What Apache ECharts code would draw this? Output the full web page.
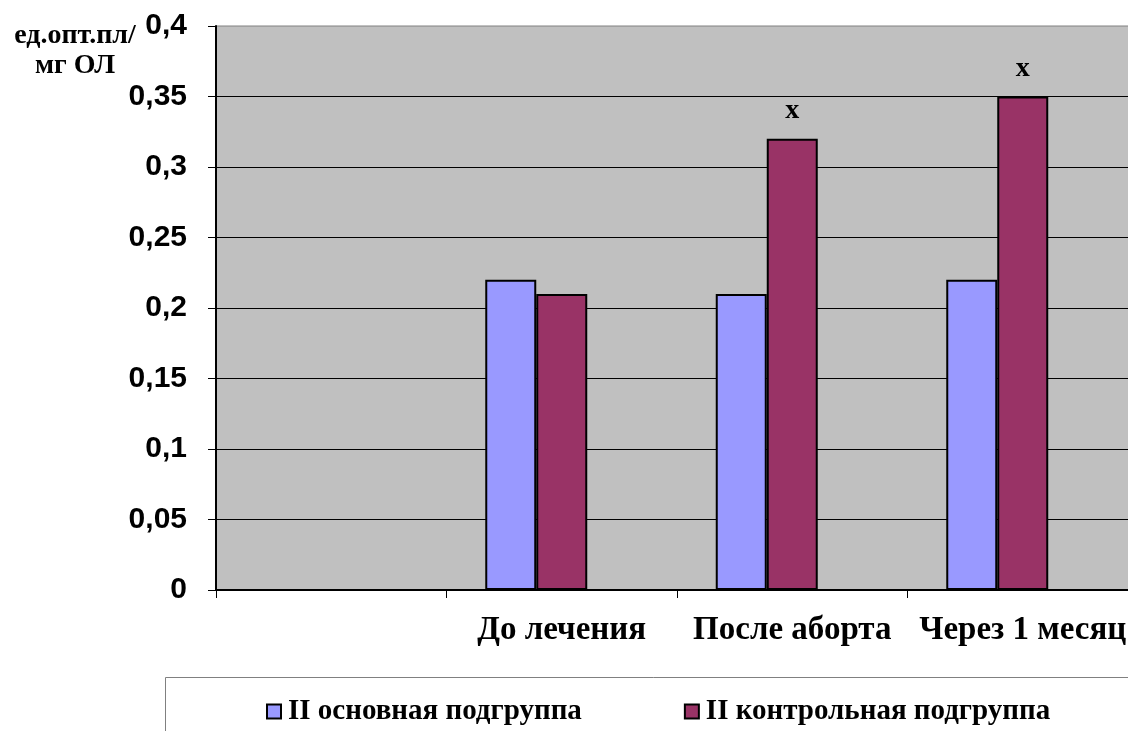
<!DOCTYPE html>
<html>
<head>
<meta charset="utf-8">
<script src="https://cdn.jsdelivr.net/npm/echarts@6/dist/echarts.min.js"></script>
<style>
  html, body { margin: 0; padding: 0; background: #fff; overflow: hidden; }
  /* the plot area runs slightly past the right edge of the page */
  #chart { width: 1140px; height: 731px; }
</style>
</head>
<body>
<div id="chart"></div>
<script>
// Categories along the x axis (the first slot is intentionally empty)
const categories = ['', 'До лечения', 'После аборта', 'Через 1 месяц'];
// Values, ед.опт.пл / мг ОЛ
const mainGroup = [null, 0.22, 0.21, 0.22];
const controlGroup = [null, 0.21, 0.32, 0.35];
// Significance markers shown above the control bars
const controlMarks = ['', '', 'x', 'x'];
// Third, empty series keeps the bar layout of the original three-slot grouping
const emptyGroup = [null, null, null, null];

const seriesNames = ['II основная подгруппа', 'II контрольная подгруппа'];
const yTicks = { min: 0, max: 0.4, step: 0.05 };

const serif = '"Liberation Serif", "Times New Roman", serif';
const sans = '"Liberation Sans", Arial, sans-serif';

const chart = echarts.init(document.getElementById('chart'), null, { renderer: 'canvas' });

chart.setOption({
  animation: false,
  backgroundColor: '#ffffff',
  grid: {
    left: 216, top: 26, right: 2, bottom: 141,
    show: true, backgroundColor: '#C0C0C0', borderColor: '#808080', borderWidth: 1
  },
  xAxis: {
    type: 'category',
    data: categories,
    axisLine: { lineStyle: { color: '#000', width: 2 } },
    axisTick: { show: true, interval: 0, length: 8, lineStyle: { color: '#000', width: 1 } },
    axisLabel: {
      interval: 0, margin: 24, color: '#000', fontFamily: serif, fontWeight: 'bold', fontSize: 33
    },
    splitLine: { show: false }
  },
  yAxis: {
    type: 'value',
    min: yTicks.min, max: yTicks.max, interval: yTicks.step,
    axisLine: { show: true, lineStyle: { color: '#000', width: 2 } },
    axisTick: { show: true, length: 8, lineStyle: { color: '#000', width: 1 } },
    axisLabel: {
      margin: 29, color: '#000', fontFamily: sans, fontWeight: 'bold', fontSize: 30,
      formatter: v => String(+v.toFixed(2)).replace('.', ',')
    },
    splitLine: { show: true, showMaxLine: false, lineStyle: { color: '#000', width: 1 } }
  },
  legend: {
    data: seriesNames,
    left: 266, top: 697, padding: 0,
    itemWidth: 14, itemHeight: 14, itemGap: 102,
    icon: 'rect',
    textStyle: { color: '#000', fontFamily: serif, fontWeight: 'bold', fontSize: 29, padding: [0, 0, 0, 2] }
  },
  graphic: [
    {
      type: 'rect', silent: true, z: -1,
      shape: { x: 165.5, y: 677.5, width: 1100, height: 100 },
      style: { fill: '#fff', stroke: '#808080', lineWidth: 1 }
    },
    {
      type: 'text', silent: true,
      x: 75, y: 36,
      style: {
        text: 'ед.опт.пл/', textAlign: 'center', textVerticalAlign: 'middle',
        font: 'bold 28px ' + serif, fill: '#000'
      }
    },
    {
      type: 'text', silent: true,
      x: 75, y: 66,
      style: {
        text: 'мг ОЛ', textAlign: 'center', textVerticalAlign: 'middle',
        font: 'bold 28px ' + serif, fill: '#000'
      }
    }
  ],
  series: [
    {
      name: seriesNames[0], type: 'bar', data: mainGroup,
      barWidth: 51, barGap: '0%',
      itemStyle: { color: '#9999FF', borderColor: '#000', borderWidth: 2 }
    },
    {
      name: seriesNames[1], type: 'bar', data: controlGroup,
      barWidth: 51, barGap: '0%',
      itemStyle: { color: '#993366', borderColor: '#000', borderWidth: 2 },
      label: {
        show: true, position: 'top', distance: 14,
        formatter: p => controlMarks[p.dataIndex] || '',
        color: '#000', fontFamily: serif, fontWeight: 'bold', fontSize: 28
      }
    },
    {
      name: 'empty', type: 'bar', data: emptyGroup,
      barWidth: 51, barGap: '0%'
    }
  ]
});
</script>
</body>
</html>
